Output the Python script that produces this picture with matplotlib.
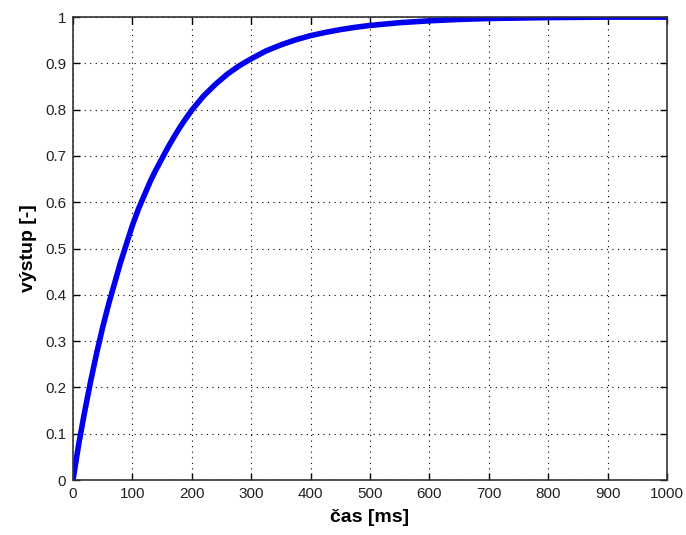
import matplotlib
matplotlib.use('Agg')
import matplotlib.pyplot as plt

# odečtené hodnoty přechodové charakteristiky
cas = [0, 5, 10, 20, 30, 40, 50, 60, 70, 80, 90, 100, 110, 120, 130, 140,
       150, 160, 170, 180, 190, 200, 220, 240, 260, 280, 300, 325, 350, 375,
       400, 425, 450, 475, 500, 550, 600, 650, 700, 750, 800, 900, 1000]
vystup = [0, 0.04, 0.08, 0.15, 0.215, 0.275, 0.33, 0.38, 0.425, 0.47, 0.51,
          0.55, 0.585, 0.615, 0.645, 0.671, 0.695, 0.719, 0.741, 0.762, 0.781,
          0.799, 0.83, 0.855, 0.877, 0.895, 0.91, 0.927, 0.94, 0.951, 0.96,
          0.967, 0.973, 0.978, 0.982, 0.988, 0.992, 0.995, 0.997, 0.998,
          0.999, 1.0, 1.0]

xticks = list(range(0, 1001, 100))
yticks = [i / 10 for i in range(11)]
yticklabels = ['0', '0.1', '0.2', '0.3', '0.4', '0.5', '0.6', '0.7', '0.8', '0.9', '1']

plt.rcParams['font.family'] = ['Liberation Sans', 'DejaVu Sans']

fig = plt.figure(figsize=(6.86, 5.35), dpi=100)
ax = fig.add_axes([0.1064, 0.1028, 0.8659, 0.8652])

ax.plot(cas, vystup, color='#0000ee', linewidth=4, solid_capstyle='butt',
        solid_joinstyle='round')

ax.set_xlim(0, 1000)
ax.set_ylim(0, 1)
ax.set_xticks(xticks)
ax.set_yticks(yticks)
ax.set_yticklabels(yticklabels)
ax.tick_params(direction='in', top=True, right=True, labelsize=11, length=5,
               width=1, pad=5, labelcolor='#222222')
ax.grid(color='black', linestyle=(0, (1, 4)), linewidth=0.8)
for s in ax.spines.values():
    s.set_linewidth(1.2)
    s.set_color('#333333')

ax.set_xlabel('čas [ms]', fontsize=14, fontweight='bold', labelpad=6)
ax.set_ylabel('výstup [-]', fontsize=14, fontweight='bold', labelpad=6)

fig.savefig('out.png', dpi=100)
